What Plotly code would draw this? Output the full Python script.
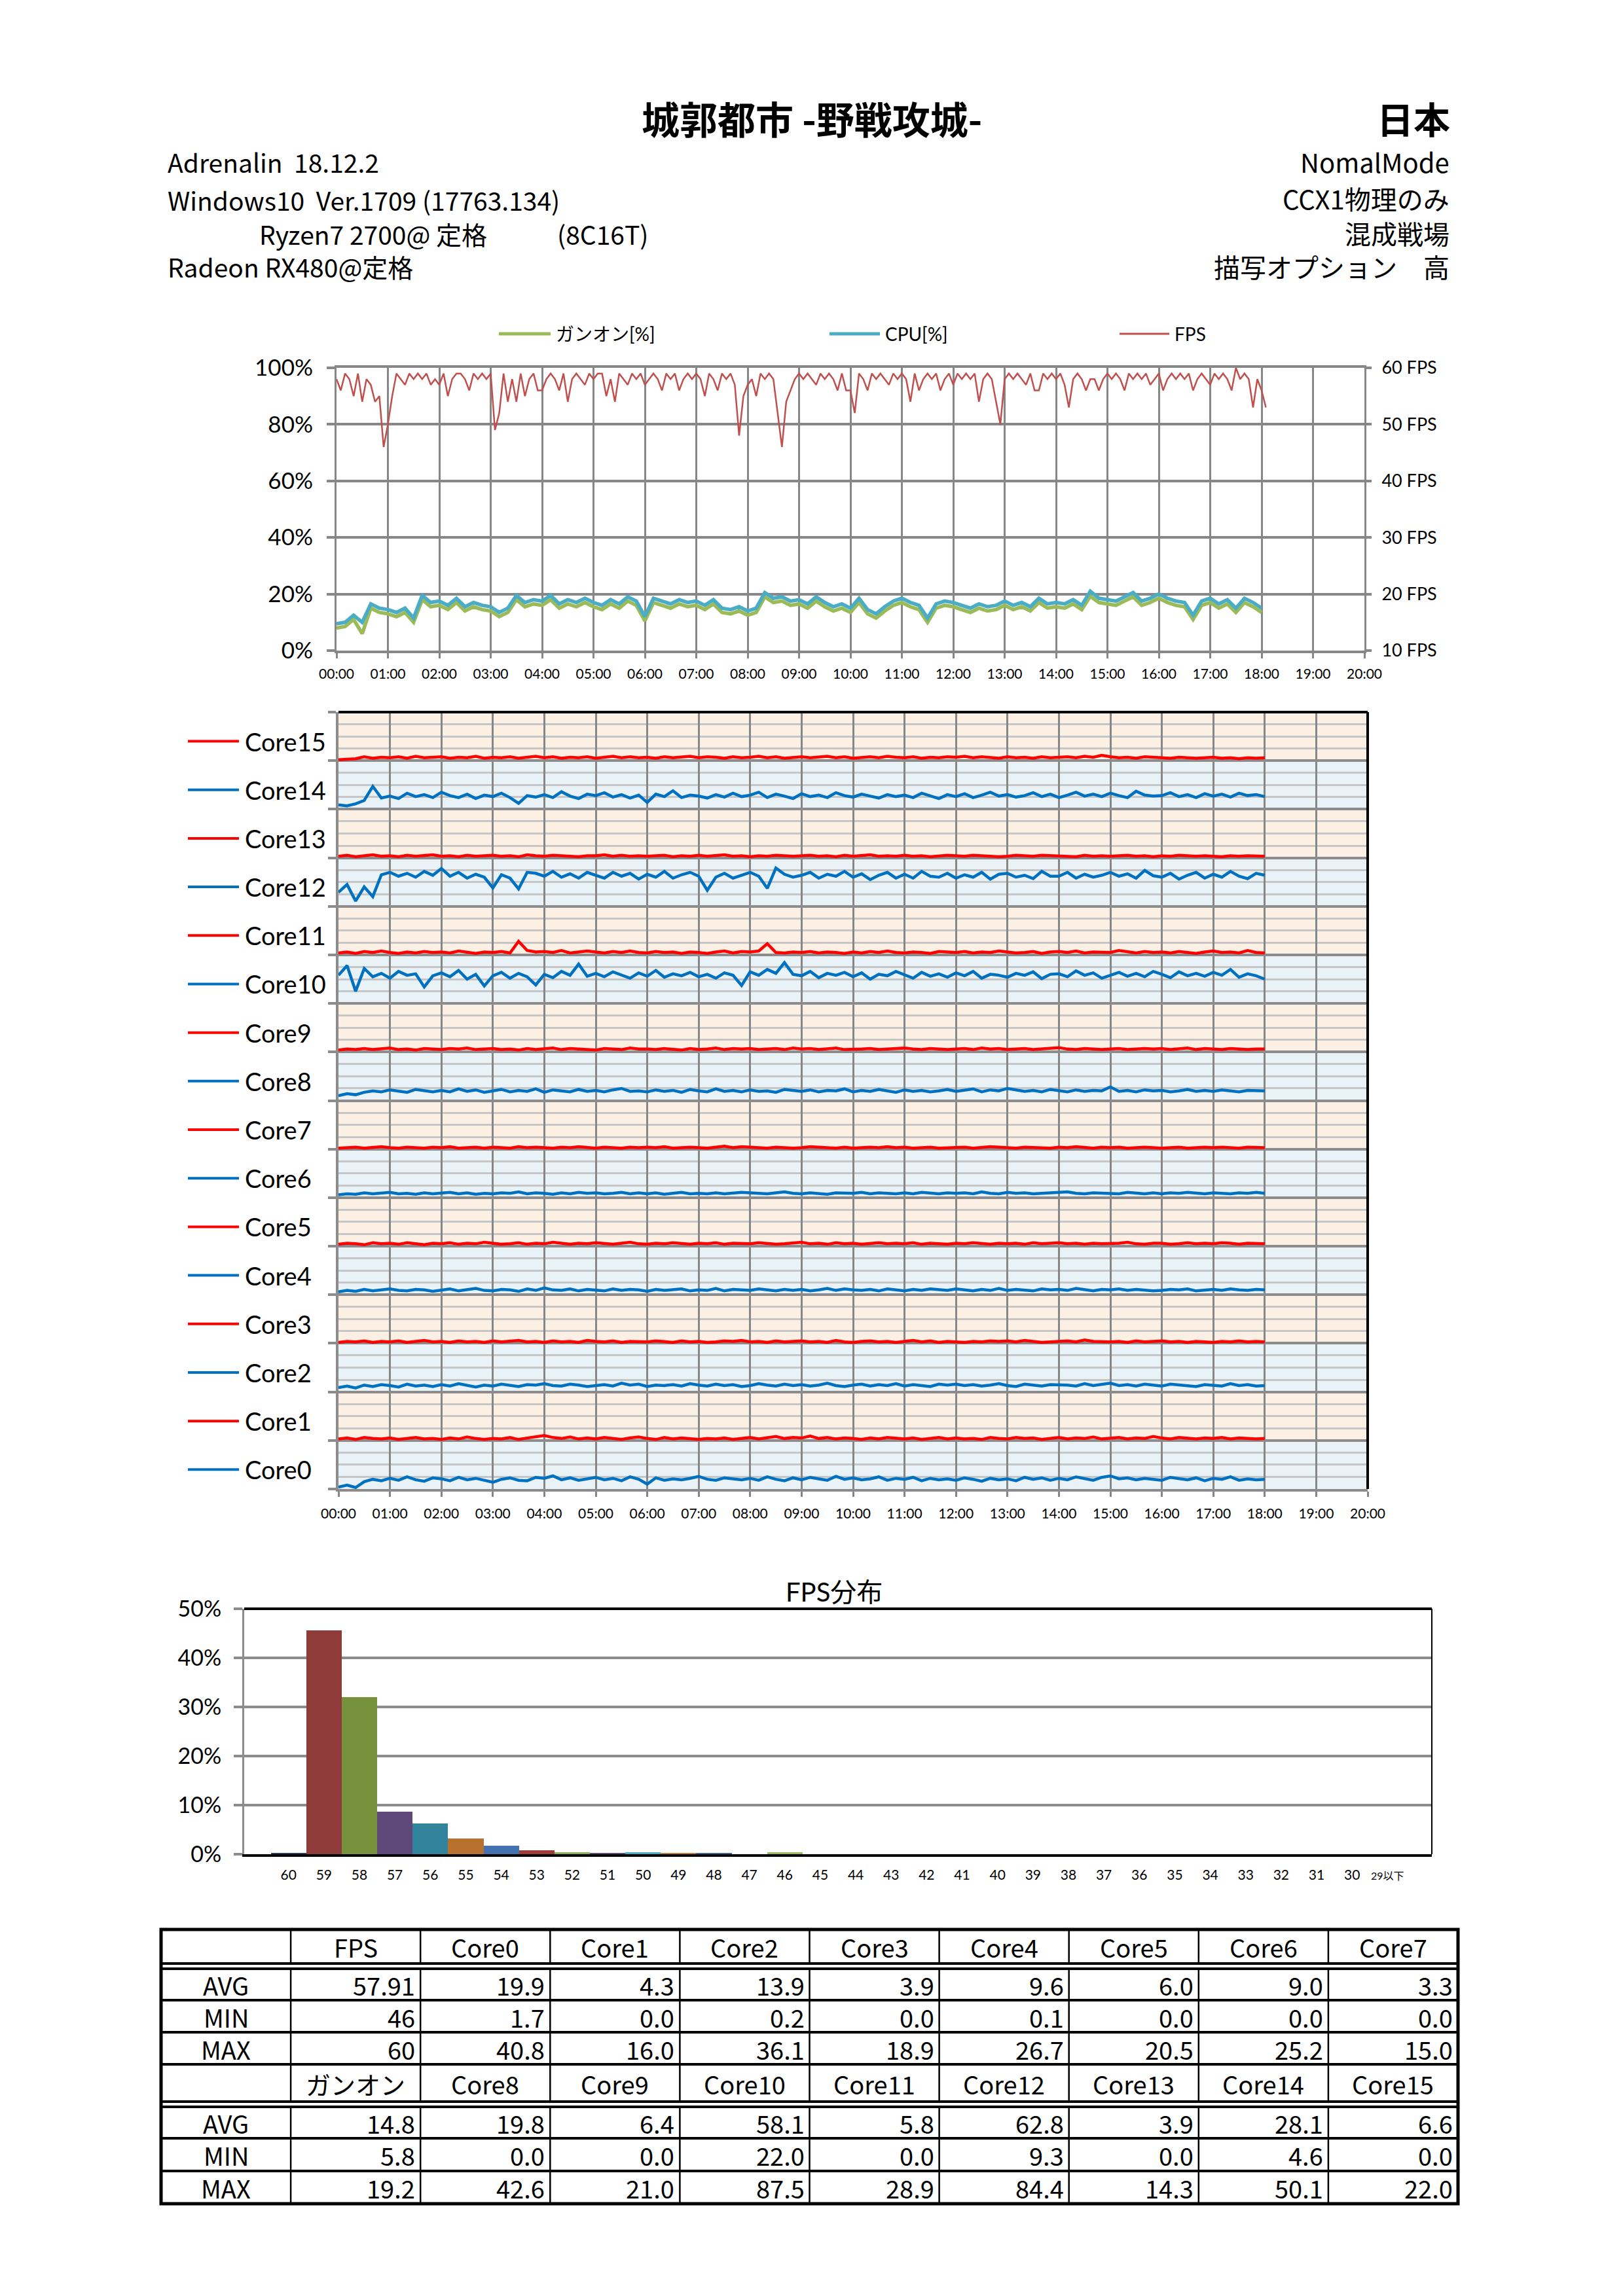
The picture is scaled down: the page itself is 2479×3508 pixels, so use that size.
import plotly.graph_objects as go

W, H = 2479, 3508
CHART_FONT = "Lato, Noto Sans CJK JP"
JP_FONT = "Noto Sans CJK JP"
GRID = "#878787"

TIME_LABELS = ["00:00", "01:00", "02:00", "03:00", "04:00", "05:00", "06:00",
               "07:00", "08:00", "09:00", "10:00", "11:00", "12:00", "13:00",
               "14:00", "15:00", "16:00", "17:00", "18:00", "19:00", "20:00"]

# FPS sampled every 5 s
FPS = [58, 56, 59, 58, 55, 59, 54, 58, 57, 54, 55, 46,
       50, 55, 59, 58, 57, 59, 58, 59, 58, 59, 57, 58,
       57, 59, 55, 58, 59, 59, 58, 56, 59, 58, 59, 58,
       59, 49, 52, 59, 54, 58, 54, 59, 55, 58, 59, 56,
       56, 58, 59, 58, 56, 59, 54, 58, 59, 58, 57, 59,
       58, 59, 59, 55, 58, 54, 59, 58, 57, 59, 58, 59,
       57, 58, 59, 58, 56, 59, 58, 59, 56, 58, 59, 58,
       59, 58, 55, 59, 58, 56, 59, 58, 59, 57, 48, 55,
       57, 58, 55, 59, 58, 59, 58, 52, 46, 54, 56, 58,
       59, 58, 59, 58, 57, 59, 58, 59, 58, 56, 59, 56,
       56, 52, 59, 58, 56, 59, 58, 59, 58, 57, 59, 58,
       59, 58, 54, 59, 56, 58, 59, 58, 59, 56, 58, 59,
       57, 59, 58, 59, 58, 59, 54, 58, 59, 58, 54, 50,
       58, 59, 58, 59, 58, 57, 59, 56, 56, 59, 58, 59,
       58, 59, 57, 53, 58, 59, 58, 56, 58, 58, 56, 58,
       59, 58, 59, 58, 56, 59, 58, 59, 58, 59, 57, 58,
       59, 56, 58, 59, 58, 59, 58, 59, 56, 58, 59, 58,
       57, 59, 58, 59, 58, 56, 60, 58, 59, 58, 53, 58,
       56, 53]

# CPU and ガンオン usage [%], sampled every 10 s
CPU = [9.5, 10.0, 12.5, 10.0, 16.5, 15.0, 14.5, 13.5, 15.0, 11.5, 19.5, 17.0,
       17.5, 16.0, 18.5, 15.5, 17.0, 16.0, 15.5, 13.5, 15.0, 19.5, 17.0, 18.0,
       17.5, 19.5, 16.5, 18.0, 17.0, 18.5, 17.0, 16.0, 18.0, 16.5, 19.0, 17.5,
       12.0, 18.5, 17.5, 16.5, 18.0, 17.0, 17.5, 16.0, 18.0, 15.0, 14.5, 15.5,
       14.0, 15.0, 20.5, 18.5, 19.0, 17.5, 18.0, 16.5, 19.0, 17.0, 15.5, 16.5,
       15.0, 18.5, 14.5, 13.0, 15.5, 17.5, 18.5, 17.0, 16.0, 11.5, 16.5, 17.5,
       17.0, 16.0, 15.0, 16.5, 15.5, 16.0, 17.5, 16.0, 17.0, 15.5, 18.5, 16.5,
       17.0, 16.5, 18.0, 16.0, 21.0, 18.5, 18.0, 17.5, 19.0, 20.5, 17.5, 18.5,
       20.0, 18.5, 17.5, 17.0, 12.5, 17.5, 18.5, 16.5, 18.0, 15.0, 18.5, 17.0,
       15.0]
GANON = [8.0, 8.5, 11.0, 6.0, 15.0, 13.5, 13.0, 12.0, 13.5, 10.0, 18.0, 15.5,
         16.0, 14.5, 17.0, 14.0, 15.5, 14.5, 14.0, 12.0, 13.5, 18.0, 15.5, 16.5,
         16.0, 18.0, 15.0, 16.5, 15.5, 17.0, 15.5, 14.5, 16.5, 15.0, 17.5, 16.0,
         10.5, 17.0, 16.0, 15.0, 16.5, 15.5, 16.0, 14.5, 16.5, 13.5, 13.0, 14.0,
         12.5, 13.5, 19.0, 17.0, 17.5, 16.0, 16.5, 15.0, 17.5, 15.5, 14.0, 15.0,
         13.5, 17.0, 13.0, 11.5, 14.0, 16.0, 17.0, 15.5, 14.5, 10.0, 15.0, 16.0,
         15.5, 14.5, 13.5, 15.0, 14.0, 14.5, 16.0, 14.5, 15.5, 14.0, 17.0, 15.0,
         15.5, 15.0, 16.5, 14.5, 19.2, 17.0, 16.5, 16.0, 17.5, 19.0, 16.0, 17.0,
         18.5, 17.0, 16.0, 15.5, 11.0, 16.0, 17.0, 15.0, 16.5, 13.5, 17.0, 15.5,
         13.5]

# per-core usage [%], sampled every 10 s
CORE0 = [4, 8, 3, 15, 20, 17, 22, 18, 25, 19, 16, 23, 21, 17, 24, 19, 22, 18,
         14, 20, 23, 18, 17, 24, 22, 27, 19, 23, 18, 21, 24, 19, 22, 17, 25, 20,
         10, 23, 18, 21, 19, 22, 26, 20, 18, 23, 21, 19, 22, 18, 25, 20, 17, 23,
         19, 24, 21, 18, 26, 20, 23, 19, 21, 25, 18, 22, 20, 24, 17, 22, 19, 21,
         18, 23, 20, 16, 22, 19, 21, 17, 24, 20, 23, 18, 22, 19, 25, 21, 18, 24,
         27, 21, 23, 19, 22, 20, 18, 24, 21, 19, 23, 17, 22, 20, 25, 18, 21, 19,
         20]
CORE1 = [3, 5, 2, 6, 4, 3, 5, 2, 4, 6, 3, 4, 2, 5, 3, 7, 4, 2, 4, 3, 6, 2, 5, 8,
         10, 6, 4, 7, 3, 5, 3, 6, 4, 2, 5, 7, 4, 2, 6, 3, 5, 4, 2, 4, 3, 5, 2, 4,
         6, 3, 5, 8, 4, 6, 5, 9, 4, 6, 3, 5, 4, 2, 5, 3, 6, 4, 3, 5, 2, 4, 6, 3,
         5, 3, 4, 2, 6, 4, 3, 6, 4, 5, 2, 4, 6, 3, 5, 4, 7, 3, 4, 6, 3, 5, 4, 8,
         5, 3, 6, 4, 3, 5, 4, 6, 3, 5, 4, 3, 4]
CORE2 = [9, 12, 8, 14, 11, 15, 13, 10, 16, 12, 14, 11, 15, 12, 17, 13, 10, 14,
         12, 16, 13, 11, 15, 14, 17, 13, 12, 16, 14, 11, 13, 15, 12, 18, 14, 16,
         11, 14, 13, 15, 12, 17, 14, 12, 16, 13, 15, 11, 13, 17, 14, 12, 16, 13,
         15, 12, 14, 18, 13, 11, 14, 16, 12, 15, 13, 17, 12, 15, 13, 11, 16, 14,
         16, 13, 15, 12, 14, 17, 13, 11, 16, 14, 12, 15, 15, 14, 12, 17, 13, 16,
         18, 13, 15, 12, 16, 14, 12, 16, 14, 13, 11, 15, 14, 12, 17, 13, 15, 12,
         13]
CORE3 = [2, 4, 3, 5, 2, 4, 3, 5, 2, 4, 6, 3, 4, 2, 5, 3, 4, 2, 5, 3, 4, 6, 3, 4,
         2, 5, 3, 4, 2, 6, 4, 3, 5, 2, 4, 3, 3, 5, 4, 2, 5, 3, 4, 2, 3, 5, 4, 6,
         3, 4, 2, 5, 3, 4, 5, 3, 4, 2, 6, 3, 2, 4, 5, 3, 4, 2, 4, 6, 3, 5, 2, 4,
         3, 2, 4, 3, 5, 4, 5, 3, 6, 4, 2, 3, 4, 5, 3, 7, 4, 3, 3, 4, 2, 5, 3, 4,
         5, 3, 4, 2, 4, 3, 2, 4, 3, 5, 3, 4, 3]
CORE4 = [6, 9, 7, 11, 8, 10, 12, 9, 8, 11, 10, 7, 9, 12, 8, 10, 13, 9, 8, 11, 10,
         7, 12, 9, 14, 10, 9, 12, 8, 11, 10, 8, 12, 9, 11, 10, 7, 11, 9, 10, 12, 8,
         10, 9, 13, 8, 11, 10, 9, 12, 10, 8, 11, 9, 11, 8, 10, 13, 9, 12, 10, 9,
         11, 8, 12, 10, 8, 11, 9, 12, 10, 9, 12, 10, 8, 11, 9, 13, 9, 11, 10, 8,
         12, 10, 11, 9, 13, 10, 8, 11, 10, 12, 9, 11, 10, 8, 9, 11, 10, 12, 8, 10,
         11, 9, 12, 10, 9, 11, 10]
CORE5 = [4, 6, 5, 3, 7, 5, 6, 4, 7, 5, 3, 6, 5, 7, 4, 6, 5, 8, 6, 4, 5, 7, 4, 6,
         5, 8, 6, 4, 6, 5, 7, 5, 4, 6, 8, 5, 4, 6, 5, 7, 5, 4, 6, 5, 7, 4, 6, 5,
         5, 7, 6, 4, 5, 6, 8, 5, 6, 4, 7, 5, 6, 4, 5, 7, 5, 6, 5, 7, 4, 6, 5, 4,
         6, 5, 7, 5, 4, 6, 5, 6, 4, 7, 5, 6, 7, 5, 6, 4, 6, 5, 5, 6, 8, 5, 4, 6,
         6, 4, 5, 7, 5, 6, 5, 7, 6, 4, 6, 5, 5]
CORE6 = [6, 8, 7, 10, 8, 9, 11, 8, 9, 7, 10, 8, 9, 11, 8, 10, 7, 9, 8, 10, 9, 12,
         8, 10, 9, 7, 10, 8, 11, 9, 10, 8, 9, 11, 8, 10, 8, 10, 7, 9, 11, 8, 9, 8,
         10, 8, 9, 11, 10, 9, 8, 10, 12, 9, 8, 10, 9, 7, 10, 9, 9, 11, 8, 10, 9, 8,
         10, 8, 11, 9, 8, 10, 9, 10, 8, 12, 9, 8, 11, 9, 10, 8, 9, 10, 10, 12, 9, 8,
         10, 9, 9, 8, 11, 10, 8, 10, 8, 10, 9, 11, 9, 8, 10, 9, 8, 10, 9, 11, 9]
CORE7 = [2, 3, 4, 2, 3, 5, 3, 2, 4, 3, 2, 4, 3, 5, 2, 3, 4, 2, 4, 3, 2, 5, 3, 4,
         3, 2, 4, 3, 5, 3, 2, 4, 3, 2, 4, 3, 4, 3, 5, 2, 3, 4, 3, 2, 4, 6, 3, 5,
         4, 3, 2, 4, 3, 2, 3, 5, 4, 3, 2, 4, 2, 3, 4, 3, 5, 3, 4, 2, 3, 4, 2, 3,
         3, 4, 2, 3, 5, 4, 3, 2, 4, 3, 3, 2, 4, 3, 5, 3, 2, 4, 3, 4, 2, 3, 4, 3,
         2, 3, 4, 2, 3, 4, 3, 4, 3, 2, 4, 3, 3]
CORE8 = [10, 14, 12, 17, 20, 18, 22, 19, 17, 23, 20, 18, 21, 18, 24, 19, 22, 17,
         20, 23, 18, 21, 19, 24, 17, 22, 20, 18, 23, 19, 21, 18, 22, 25, 19, 20,
         18, 22, 19, 21, 17, 23, 20, 18, 24, 19, 21, 18, 22, 19, 20, 17, 23, 21,
         19, 22, 18, 21, 20, 24, 18, 21, 19, 23, 20, 17, 22, 19, 21, 18, 20, 23,
         19, 21, 24, 18, 22, 20, 25, 22, 19, 21, 18, 23, 20, 18, 22, 19, 21, 20,
         28, 19, 21, 18, 22, 20, 21, 18, 20, 23, 19, 21, 19, 22, 20, 18, 21, 20,
         20]
CORE9 = [4, 6, 5, 7, 5, 6, 8, 5, 6, 4, 7, 6, 5, 7, 6, 8, 5, 6, 7, 5, 6, 4, 7, 5,
         6, 8, 5, 7, 6, 5, 4, 7, 6, 5, 8, 6, 6, 5, 7, 6, 4, 7, 5, 6, 8, 5, 7, 6,
         7, 5, 6, 7, 5, 8, 6, 7, 5, 6, 8, 5, 5, 6, 7, 5, 6, 7, 8, 6, 5, 7, 6, 5,
         6, 7, 5, 8, 6, 7, 5, 6, 7, 5, 6, 8, 9, 6, 5, 7, 6, 5, 6, 7, 5, 6, 7, 6,
         7, 5, 6, 8, 5, 7, 6, 5, 7, 6, 5, 6, 6]
CORE10 = [58, 78, 25, 72, 55, 62, 52, 66, 58, 61, 34, 57, 63, 55, 68, 50, 60, 36,
          57, 64, 52, 62, 55, 38, 60, 53, 66, 58, 81, 56, 62, 55, 65, 58, 52, 63,
          56, 68, 54, 61, 57, 64, 55, 60, 52, 63, 58, 37, 65, 58, 70, 62, 84, 60,
          57, 66, 53, 62, 58, 64, 55, 63, 50, 60, 57, 66, 59, 52, 64, 56, 61, 54,
          63, 57, 66, 52, 60, 58, 54, 62, 58, 65, 51, 60, 61, 55, 67, 58, 63, 52,
          58, 64, 56, 62, 55, 66, 60, 53, 65, 57, 62, 56, 64, 58, 70, 54, 61, 57,
          50]
CORE11 = [4, 6, 3, 7, 5, 8, 5, 3, 6, 4, 7, 5, 6, 4, 8, 5, 3, 6, 5, 7, 4, 28, 9, 6,
          7, 5, 9, 4, 6, 8, 6, 4, 7, 5, 8, 5, 4, 7, 5, 6, 3, 6, 5, 3, 6, 8, 4, 7,
          6, 8, 23, 5, 4, 6, 5, 7, 4, 6, 5, 3, 6, 4, 7, 5, 8, 5, 4, 6, 5, 3, 7, 6,
          5, 7, 4, 6, 5, 8, 6, 4, 5, 7, 3, 6, 7, 5, 8, 4, 6, 5, 5, 9, 6, 4, 7, 5,
          6, 4, 7, 5, 3, 6, 8, 5, 6, 4, 9, 5, 4]
CORE12 = [29, 45, 11, 40, 20, 65, 70, 62, 68, 60, 72, 64, 78, 62, 70, 58, 66, 60,
          38, 65, 58, 36, 70, 68, 62, 72, 60, 67, 58, 70, 64, 58, 70, 62, 68, 56,
          66, 60, 72, 58, 65, 70, 62, 33, 60, 68, 58, 64, 70, 62, 37, 79, 66, 60,
          64, 70, 58, 66, 62, 72, 60, 67, 55, 64, 70, 58, 66, 58, 72, 62, 60, 68,
          58, 65, 60, 70, 56, 66, 68, 60, 64, 57, 72, 62, 62, 70, 58, 66, 60, 64,
          70, 62, 67, 58, 74, 63, 60, 68, 56, 64, 70, 58, 66, 60, 72, 62, 57, 68,
          64]
CORE13 = [3, 5, 2, 4, 6, 3, 4, 2, 5, 3, 4, 6, 3, 4, 2, 5, 3, 4, 5, 3, 4, 2, 6, 4,
          3, 5, 4, 3, 2, 4, 4, 6, 3, 5, 3, 4, 3, 4, 5, 2, 4, 3, 5, 3, 4, 6, 3, 4,
          2, 4, 3, 5, 4, 3, 4, 5, 3, 4, 2, 5, 3, 4, 6, 3, 4, 3, 5, 3, 4, 2, 4, 5,
          4, 3, 5, 4, 3, 2, 3, 5, 4, 3, 5, 4, 4, 3, 2, 5, 3, 4, 3, 4, 5, 3, 4, 2,
          4, 3, 5, 4, 3, 4, 3, 2, 4, 3, 4, 3, 3]
CORE14 = [9, 7, 11, 18, 47, 23, 27, 22, 33, 26, 30, 24, 35, 28, 24, 31, 22, 29,
          26, 33, 24, 12, 28, 25, 30, 24, 36, 27, 22, 31, 28, 34, 25, 30, 23, 29,
          14, 31, 26, 38, 24, 29, 27, 23, 30, 25, 33, 26, 29, 35, 24, 31, 27, 22,
          32, 26, 29, 24, 34, 28, 25, 31, 27, 23, 30, 26, 29, 24, 33, 27, 22, 30,
          26, 32, 24, 29, 35, 27, 30, 25, 28, 34, 26, 31, 24, 29, 35, 27, 31, 26,
          33, 28, 24, 37, 29, 27, 28, 34, 26, 30, 24, 32, 27, 31, 25, 33, 28, 30,
          26]
CORE15 = [2, 3, 4, 8, 5, 7, 6, 8, 5, 9, 6, 7, 8, 5, 7, 6, 9, 5, 7, 6, 8, 5, 7, 9,
          6, 8, 5, 7, 6, 8, 5, 7, 9, 6, 8, 6, 7, 5, 8, 6, 7, 9, 6, 8, 7, 5, 8, 6,
          7, 9, 6, 8, 5, 7, 8, 6, 7, 9, 6, 8, 5, 7, 8, 6, 9, 7, 6, 8, 5, 7, 6, 8,
          7, 9, 6, 8, 7, 5, 8, 6, 7, 5, 8, 6, 7, 8, 6, 9, 7, 11, 8, 6, 7, 5, 8, 7,
          6, 5, 7, 6, 5, 6, 7, 5, 6, 4, 6, 5, 6]
CORES = [CORE0, CORE1, CORE2, CORE3, CORE4, CORE5, CORE6, CORE7,
         CORE8, CORE9, CORE10, CORE11, CORE12, CORE13, CORE14, CORE15]

# FPS distribution
HIST_BINS = ["60", "59", "58", "57", "56", "55", "54", "53", "52", "51", "50",
             "49", "48", "47", "46", "45", "44", "43", "42", "41", "40", "39",
             "38", "37", "36", "35", "34", "33", "32", "31", "30", "29以下"]
HIST_PCT = [0.25, 45.6, 32.0, 8.7, 6.3, 3.2, 1.8, 0.85, 0.35, 0.25, 0.35,
            0.25, 0.25, 0.0, 0.35, 0, 0, 0, 0, 0, 0, 0,
            0, 0, 0, 0, 0, 0, 0, 0, 0, 0]
HIST_COLORS = ["#243F60", "#8E3B3A", "#76923C", "#5F497A", "#31849B", "#B8702F",
               "#4472B0", "#A33B38", "#8FAF54", "#604A7B", "#4BACC6", "#C8782F",
               "#3C64A0", "#C0504D", "#9BBB59", "#8064A2", "#4BACC6", "#F79646",
               "#4F81BD", "#C0504D", "#9BBB59", "#8064A2", "#4BACC6", "#F79646",
               "#4F81BD", "#C0504D", "#9BBB59", "#8064A2", "#4BACC6", "#F79646",
               "#4F81BD", "#C0504D"]

# summary table
HEAD1 = ["", "FPS", "Core0", "Core1", "Core2", "Core3", "Core4", "Core5", "Core6", "Core7"]
AVG1 = ["AVG", "57.91", "19.9", "4.3", "13.9", "3.9", "9.6", "6.0", "9.0", "3.3"]
MIN1 = ["MIN", "46", "1.7", "0.0", "0.2", "0.0", "0.1", "0.0", "0.0", "0.0"]
MAX1 = ["MAX", "60", "40.8", "16.0", "36.1", "18.9", "26.7", "20.5", "25.2", "15.0"]
HEAD2 = ["", "ガンオン", "Core8", "Core9", "Core10", "Core11", "Core12", "Core13", "Core14", "Core15"]
AVG2 = ["AVG", "14.8", "19.8", "6.4", "58.1", "5.8", "62.8", "3.9", "28.1", "6.6"]
MIN2 = ["MIN", "5.8", "0.0", "0.0", "22.0", "0.0", "9.3", "0.0", "4.6", "0.0"]
MAX2 = ["MAX", "19.2", "42.6", "21.0", "87.5", "28.9", "84.4", "14.3", "50.1", "22.0"]


def fx(px):
    return px / W


def fy(py):
    return 1 - py / H


def times(vals, step):
    return [i * step / 60 for i in range(len(vals))]


fig = go.Figure()

# ---- top chart: usage + FPS
fig.add_trace(go.Scatter(x=times(GANON, 10), y=GANON, mode="lines", name="ガンオン[%]",
                         line=dict(color="#9BBB59", width=5.5), xaxis="x", yaxis="y"))
fig.add_trace(go.Scatter(x=times(CPU, 10), y=CPU, mode="lines", name="CPU[%]",
                         line=dict(color="#4BACC6", width=5.5), xaxis="x", yaxis="y"))
fig.add_trace(go.Scatter(x=times(FPS, 5), y=FPS, mode="lines", name="FPS",
                         line=dict(color="#C0504D", width=2.5), xaxis="x", yaxis="y2"))

# ---- per core chart, each core in its own 100% band
for i, vals in enumerate(CORES):
    color = "#FF0000" if i % 2 else "#0070C0"
    fig.add_trace(go.Scatter(x=times(vals, 10), y=[v + 100 * i for v in vals], mode="lines",
                             name="Core%d" % i, line=dict(color=color, width=4.5),
                             xaxis="x2", yaxis="y3"))

# ---- FPS histogram
fig.add_trace(go.Bar(x=HIST_BINS, y=HIST_PCT, marker=dict(color=HIST_COLORS, line=dict(width=0)),
                     xaxis="x3", yaxis="y4"))

shapes = []
annotations = []

# band backgrounds
for i in range(16):
    shapes.append(dict(type="rect", xref="x2", yref="y3", x0=0, x1=20, y0=100 * i, y1=100 * (i + 1),
                       fillcolor="#FCEFE4" if i % 2 else "#E8F2F7", line=dict(width=0), layer="below"))
# black border top/right of core chart
shapes.append(dict(type="line", xref="x2 domain", yref="y3 domain", x0=0, x1=1, y0=1, y1=1,
                   line=dict(color="black", width=4)))
shapes.append(dict(type="line", xref="x2 domain", yref="y3 domain", x0=1, x1=1, y0=0, y1=1,
                   line=dict(color="black", width=4)))
# core legend
for i in range(16):
    color = "#FF0000" if i % 2 else "#0070C0"
    shapes.append(dict(type="line", xref="paper", yref="y3", x0=fx(287), x1=fx(365),
                       y0=100 * i + 40, y1=100 * i + 40, line=dict(color=color, width=4)))
    annotations.append(dict(text="Core%d" % i, xref="paper", yref="y3", x=fx(372), y=100 * i + 40,
                            xanchor="left", yanchor="middle", showarrow=False,
                            font=dict(family=CHART_FONT, size=38, color="black")))

# histogram border
shapes.append(dict(type="line", xref="x3 domain", yref="y4 domain", x0=0, x1=1, y0=1, y1=1,
                   line=dict(color="black", width=4)))
shapes.append(dict(type="line", xref="x3 domain", yref="y4 domain", x0=1, x1=1, y0=0, y1=1,
                   line=dict(color="black", width=2)))
annotations.append(dict(text="FPS分布", xref="paper", yref="paper", x=fx(1274), y=fy(2432),
                        xanchor="center", yanchor="middle", showarrow=False,
                        font=dict(family=CHART_FONT, size=40, color="black")))

# top chart legend
for label, color, wid, x0, x1 in [("ガンオン[%]", "#9BBB59", 5, 762, 841),
                                  ("CPU[%]", "#4BACC6", 5, 1267, 1344),
                                  ("FPS", "#C0504D", 3, 1710, 1786)]:
    shapes.append(dict(type="line", xref="paper", yref="paper", x0=fx(x0), x1=fx(x1),
                       y0=fy(510), y1=fy(510), line=dict(color=color, width=wid)))
    annotations.append(dict(text=label, xref="paper", yref="paper", x=fx(x1 + 6), y=fy(510),
                            xanchor="left", yanchor="middle", showarrow=False,
                            font=dict(family=CHART_FONT, size=28, color="black")))

# page header
annotations.append(dict(text="<b>城郭都市 -野戦攻城-</b>", x=fx(1240), y=fy(180), xanchor="center",
                        font=dict(family=JP_FONT, size=58)))
annotations.append(dict(text="<b>日本</b>", x=fx(2217), y=fy(180), xanchor="right",
                        font=dict(family=JP_FONT, size=56)))
left_lines = [("Adrenalin\u00a0\u00a018.12.2", 254, 247),
              ("Windows10\u00a0\u00a0Ver.1709 (17763.134)", 254, 305),
              ("Ryzen7 2700@ 定格", 394, 357),
              ("(8C16T)", 849, 357),
              ("Radeon RX480@定格", 254, 407)]
for text, x, y in left_lines:
    annotations.append(dict(text=text, x=fx(x), y=fy(y), xanchor="left",
                            font=dict(family=JP_FONT, size=39)))
right_lines = [("NomalMode", 247), ("CCX1物理のみ", 303), ("混成戦場", 356), ("描写オプション　高", 407)]
for text, y in right_lines:
    annotations.append(dict(text=text, x=fx(2216), y=fy(y), xanchor="right",
                            font=dict(family=JP_FONT, size=40)))

# ---- summary table
T_LEFT, T_RIGHT = 246, 2227
COL_W = (T_RIGHT - T_LEFT) / 10
T_TOP, T_BOT = 2948, 3367
row_lines = [3000, 3008, 3056, 3105, 3154, 3211, 3219, 3267, 3317]
for y in row_lines:
    shapes.append(dict(type="line", xref="paper", yref="paper", x0=fx(T_LEFT), x1=fx(T_RIGHT),
                       y0=fy(y), y1=fy(y), line=dict(color="black", width=4)))
for k in range(1, 10):
    x = T_LEFT + k * COL_W
    for ya, yb in [(T_TOP, 3000), (3008, 3211), (3219, T_BOT)]:
        shapes.append(dict(type="line", xref="paper", yref="paper", x0=fx(x), x1=fx(x),
                           y0=fy(ya), y1=fy(yb), line=dict(color="black", width=2.5)))
shapes.append(dict(type="rect", xref="paper", yref="paper", x0=fx(T_LEFT), x1=fx(T_RIGHT),
                   y0=fy(T_TOP), y1=fy(T_BOT), line=dict(color="black", width=5)))

rows = [(HEAD1, 2974), (AVG1, 3032), (MIN1, 3081), (MAX1, 3130),
        (HEAD2, 3183), (AVG2, 3243), (MIN2, 3292), (MAX2, 3342)]
for cells, yc in rows:
    header = cells[0] == ""
    for k, text in enumerate(cells):
        if not text:
            continue
        if header or k == 0:
            x, anchor = T_LEFT + (k + 0.5) * COL_W, "center"
        else:
            x, anchor = T_LEFT + (k + 1) * COL_W - 6, "right"
        annotations.append(dict(text=text, x=fx(x), y=fy(yc), xanchor=anchor,
                                font=dict(family=JP_FONT, size=38)))

for a in annotations:
    a.setdefault("xref", "paper")
    a.setdefault("yref", "paper")
    a.setdefault("yanchor", "middle")
    a.setdefault("showarrow", False)
    a["font"].setdefault("color", "black")

time_axis = dict(range=[0, 20], tickvals=list(range(21)), ticktext=TIME_LABELS,
                 showgrid=True, gridcolor=GRID, gridwidth=3, zeroline=False, automargin=False,
                 ticks="outside", ticklen=8, tickwidth=3, tickcolor=GRID,
                 tickfont=dict(size=21, color="black"))

hist_ticktext = HIST_BINS[:-1] + ['<span style="font-size:16px">%s</span>' % HIST_BINS[-1]]

fig.update_layout(
    width=W, height=H, margin=dict(l=0, r=0, t=0, b=0, pad=0, autoexpand=False),
    paper_bgcolor="white", plot_bgcolor="white", showlegend=False, bargap=0,
    font=dict(family=CHART_FONT, color="black"),
    shapes=shapes, annotations=annotations,
    xaxis=dict(time_axis, domain=[fx(514), fx(2084)], anchor="y", ticklabelstandoff=6,
               showline=True, linecolor=GRID, linewidth=4, mirror=True),
    yaxis=dict(domain=[fy(994), fy(562)], anchor="x", range=[0, 100], dtick=20, ticksuffix="%",
               showgrid=True, gridcolor=GRID, gridwidth=4, zeroline=False, automargin=False,
               ticks="outside", ticklen=12, tickwidth=4, tickcolor=GRID, ticklabelstandoff=14,
               showline=True, linecolor=GRID, linewidth=3, mirror=True,
               tickfont=dict(size=35, color="black")),
    yaxis2=dict(overlaying="y", side="right", anchor="x", range=[10, 60], dtick=10,
                ticksuffix=" FPS", showgrid=False, zeroline=False, automargin=False,
                ticks="outside", ticklen=10, tickwidth=4, tickcolor=GRID, ticklabelstandoff=10,
                tickfont=dict(size=27, color="black")),
    xaxis2=dict(time_axis, domain=[fx(517), fx(2089)], anchor="y3", ticklabelstandoff=8,
                showline=True, linecolor="#8C8C8C", linewidth=4),
    yaxis3=dict(domain=[fy(2275), fy(1088)], anchor="x2", range=[0, 1600], dtick=100,
                showticklabels=False, showgrid=True, gridcolor="#8C8C8C", gridwidth=4,
                zeroline=False, automargin=False, ticks="outside", ticklen=12, tickwidth=4,
                tickcolor="#8C8C8C",
                minor=dict(dtick=25, showgrid=True, gridcolor="#C6C6C6", gridwidth=2.5),
                showline=True, linecolor="#8C8C8C", linewidth=4),
    xaxis3=dict(domain=[fx(373), fx(2187)], anchor="y4", type="category",
                categoryorder="array", categoryarray=HIST_BINS, range=[-1.25, 32.25],
                tickvals=HIST_BINS, ticktext=hist_ticktext,
                showgrid=False, zeroline=False, automargin=False, ticks="", ticklabelstandoff=10,
                showline=True, linecolor="black", linewidth=4,
                tickfont=dict(size=21, color="black")),
    yaxis4=dict(domain=[fy(2833), fy(2458)], anchor="x3", range=[0, 50], dtick=10, ticksuffix="%",
                showgrid=True, gridcolor="#8C8C8C", gridwidth=4, zeroline=False, automargin=False,
                ticks="outside", ticklen=13, tickwidth=4, tickcolor="#8C8C8C", ticklabelstandoff=12,
                showline=True, linecolor="#8C8C8C", linewidth=3,
                tickfont=dict(size=34, color="black")),
)

fig.write_html("out.html", config={"displayModeBar": False},
               post_script="document.body.style.margin='0';")
